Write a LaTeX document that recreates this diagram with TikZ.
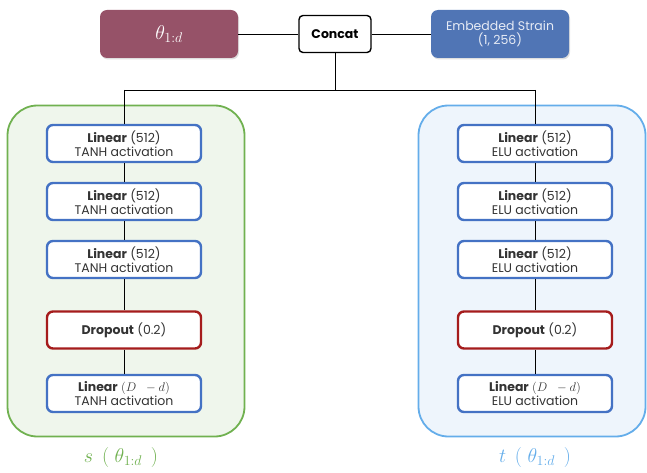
\documentclass[tikz,border=0pt]{standalone}
\usepackage{fix-cm}
\usepackage[no-math]{fontspec}
\setmainfont{Poppins}
\usetikzlibrary{shadows}
\definecolor{thetac}{HTML}{965268}
\definecolor{embc}{HTML}{5075B5}
\definecolor{gborder}{HTML}{70B150}
\definecolor{gfill}{HTML}{EFF6EC}
\definecolor{bborder}{HTML}{64ADEA}
\definecolor{bfill}{HTML}{EEF5FC}
\definecolor{boxblue}{HTML}{4472C4}
\definecolor{dropred}{HTML}{A51C1C}
\definecolor{embtext}{HTML}{E6EBF5}
\definecolor{txt}{HTML}{333333}
\tikzset{
  linbox/.style={draw=boxblue, line width=2.4pt, rounded corners=6pt, fill=white,
    minimum width=154pt, minimum height=37pt, align=center, inner sep=0pt, text=txt,
    font=\fontsize{12.5}{14}\selectfont},
  dropbox/.style={linbox, draw=dropred},
  topbox/.style={rounded corners=7pt, minimum width=138pt, minimum height=48pt,
    align=center, inner sep=0pt, drop shadow={shadow xshift=1pt, shadow yshift=-1.5pt, opacity=0.25}},
  panel/.style={rounded corners=30pt, line width=1.8pt, minimum width=237pt, minimum height=331pt, inner sep=0pt},
  conn/.style={line width=0.8pt, draw=black},
  plabel/.style={font=\fontsize{20}{24}\selectfont}
}
\begin{document}
\begin{tikzpicture}[x=1pt,y=-1pt]
\useasboundingbox (0,0) rectangle (647,473);
% panels
\node[panel, draw=gborder, fill=gfill] (lpanel) at (126,271) {};
\node[panel, draw=bborder, fill=bfill, minimum width=227pt] (rpanel) at (532,271) {};
% top boxes
\node[topbox, fill=thetac, text=white] (theta) at (169,34) {\fontsize{20}{24}\selectfont$\theta_{1:d}$};
\node[topbox, fill=embc, text=embtext, font=\fontsize{12.5}{14.5}\selectfont] (emb) at (500,34) {Embedded Strain\\(1, 256)};
\node[draw=black, line width=1.4pt, fill=white, rounded corners=4pt, minimum width=72pt, minimum height=37pt, inner sep=0pt, font=\bfseries\fontsize{12.5}{14}\selectfont] (concat) at (335,34) {Concat};
% left column
\node[linbox] (l1) at (124,143.5) {\textbf{Linear} (512)\\TANH activation};
\node[linbox] (l2) at (124,201.5) {\textbf{Linear} (512)\\TANH activation};
\node[linbox] (l3) at (124,259.5) {\textbf{Linear} (512)\\TANH activation};
\node[dropbox] (l4) at (124,330) {\textbf{Dropout} (0.2)};
\node[linbox] (l5) at (124,393.5) {\textbf{Linear} $(D\;\;-d)$\\TANH activation};
% right column
\node[linbox] (r1) at (535,143.5) {\textbf{Linear} (512)\\ELU activation};
\node[linbox] (r2) at (535,201.5) {\textbf{Linear} (512)\\ELU activation};
\node[linbox] (r3) at (535,259.5) {\textbf{Linear} (512)\\ELU activation};
\node[dropbox] (r4) at (535,330) {\textbf{Dropout} (0.2)};
\node[linbox] (r5) at (535,393.5) {\textbf{Linear} $(D\;\;-d)$\\ELU activation};
% labels
\node[plabel, text=gborder] (slab) at (121,457) {$s\;\,(\;\theta_{1:d}\;\,)$};
\node[plabel, text=bborder] (tlab) at (535,457) {$t\;\,(\;\theta_{1:d}\;\,)$};
% connectors
\coordinate (split) at (335,90);
\coordinate (lsplit) at (124,90);
\coordinate (rsplit) at (535,90);
\draw[conn] (theta.east) -- (concat.west);
\draw[conn] (concat.east) -- (emb.west);
\draw[conn] (concat.south) -- (split);
\draw[conn] (lsplit) -- (rsplit);
\draw[conn] (lsplit) -- (l1.north);
\draw[conn] (rsplit) -- (r1.north);
\draw[conn] (l1) -- (l2);
\draw[conn] (l2) -- (l3);
\draw[conn] (l3) -- (l4);
\draw[conn] (l4) -- (l5);
\draw[conn] (r1) -- (r2);
\draw[conn] (r2) -- (r3);
\draw[conn] (r3) -- (r4);
\draw[conn] (r4) -- (r5);
\end{tikzpicture}
\end{document}
